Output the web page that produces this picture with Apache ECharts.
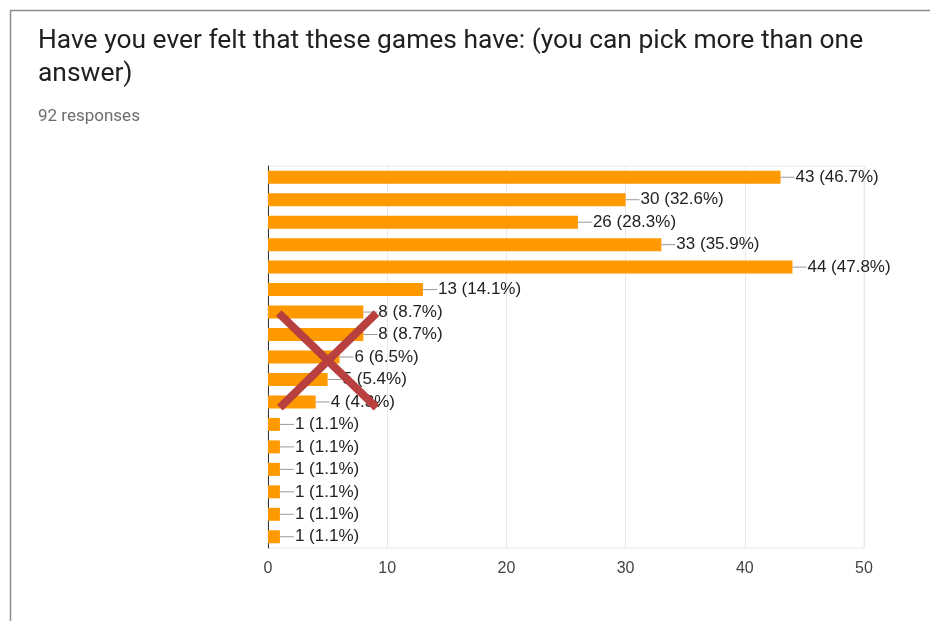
<!DOCTYPE html>
<html>
<head>
<meta charset="utf-8">
<style>
  html, body { margin: 0; padding: 0; background: #fff; }
  #chart { width: 930px; height: 621px; }
</style>
<script src="https://cdn.jsdelivr.net/npm/echarts@6/dist/echarts.min.js"></script>
</head>
<body>
<div id="chart"></div>
<script>
// Survey answers: one bar per option, top to bottom
const categories = ['1', '2', '3', '4', '5', '6', '7', '8', '9', '10', '11', '12', '13', '14', '15', '16', '17'];
const counts = [43, 30, 26, 33, 44, 13, 8, 8, 6, 5, 4, 1, 1, 1, 1, 1, 1];
const totalResponses = 92;
const xTicks = [0, 10, 20, 30, 40, 50];
// Cross drawn over the small answers, in data space: [count, category position]
const crossA = [[0.9, 6.05], [9.1, 10.25]];
const crossB = [[9.1, 6.05], [1.0, 10.25]];

const chart = echarts.init(document.getElementById('chart'), null, { renderer: 'canvas' });

const pct = v => (v / totalResponses * 100).toFixed(1);

chart.setOption({
  backgroundColor: '#ffffff',
  animation: false,
  title: [
    {
      text: 'Have you ever felt that these games have: (you can pick more than one\nanswer)',
      left: 33,
      top: 20,
      textStyle: { fontFamily: 'Roboto', fontSize: 26.4, fontWeight: 'normal', color: '#212121', lineHeight: 33 }
    },
    {
      text: totalResponses + ' responses',
      left: 33,
      top: 103,
      textStyle: { fontFamily: 'Roboto', fontSize: 17, fontWeight: 'normal', color: '#6d6d6d' }
    }
  ],
  grid: {
    left: 268, right: 66, top: 166, bottom: 73,
    show: true, borderColor: '#e8e8e8', borderWidth: 1
  },
  xAxis: {
    type: 'value',
    min: xTicks[0],
    max: xTicks[xTicks.length - 1],
    interval: xTicks[1] - xTicks[0],
    axisLine: { show: false },
    axisTick: { show: false },
    splitLine: { lineStyle: { color: '#e8e8e8', width: 1 } },
    axisLabel: { color: '#444', fontSize: 16, fontFamily: 'Liberation Sans', margin: 13 }
  },
  yAxis: {
    type: 'category',
    data: categories,
    inverse: true,
    axisLine: { show: true, lineStyle: { color: '#333', width: 1 } },
    axisTick: { show: false },
    axisLabel: { show: false },
    splitLine: { show: false }
  },
  series: [
    {
      type: 'bar',
      data: counts,
      barWidth: 13,
      itemStyle: { color: '#ff9900' },
      label: {
        show: true,
        position: 'right',
        distance: 0,
        formatter: p => '{l|}{g|}' + p.value + ' (' + pct(p.value) + '%)',
        color: '#222',
        fontSize: 17,
        fontFamily: 'Liberation Sans',
        rich: {
          l: { width: 14, height: 1, backgroundColor: '#9a9a9a', padding: 0 },
          g: { width: 1 }
        }
      }
    }
  ]
});

// Map [count, fractional category position] to pixels via the axes
function toPixel(pt) {
  const lo = Math.floor(pt[1]);
  const hi = Math.min(lo + 1, categories.length - 1);
  const t = pt[1] - lo;
  const a = chart.convertToPixel({ gridIndex: 0 }, [pt[0], lo]);
  const b = chart.convertToPixel({ gridIndex: 0 }, [pt[0], hi]);
  return [a[0], a[1] + (b[1] - a[1]) * t];
}

function crossLine(seg) {
  const p1 = toPixel(seg[0]);
  const p2 = toPixel(seg[1]);
  return {
    type: 'line',
    silent: true,
    z: 100,
    shape: { x1: p1[0], y1: p1[1], x2: p2[0], y2: p2[1] },
    style: { stroke: '#b8403e', lineWidth: 8, lineCap: 'butt' }
  };
}

chart.setOption({
  graphic: [
    {
      type: 'rect',
      silent: true,
      shape: { x: 10.5, y: 10.5, width: 1000, height: 700 },
      style: { fill: 'none', stroke: '#8c8c8c', lineWidth: 1.5 }
    },
    crossLine(crossA),
    crossLine(crossB)
  ]
});
</script>
</body>
</html>
